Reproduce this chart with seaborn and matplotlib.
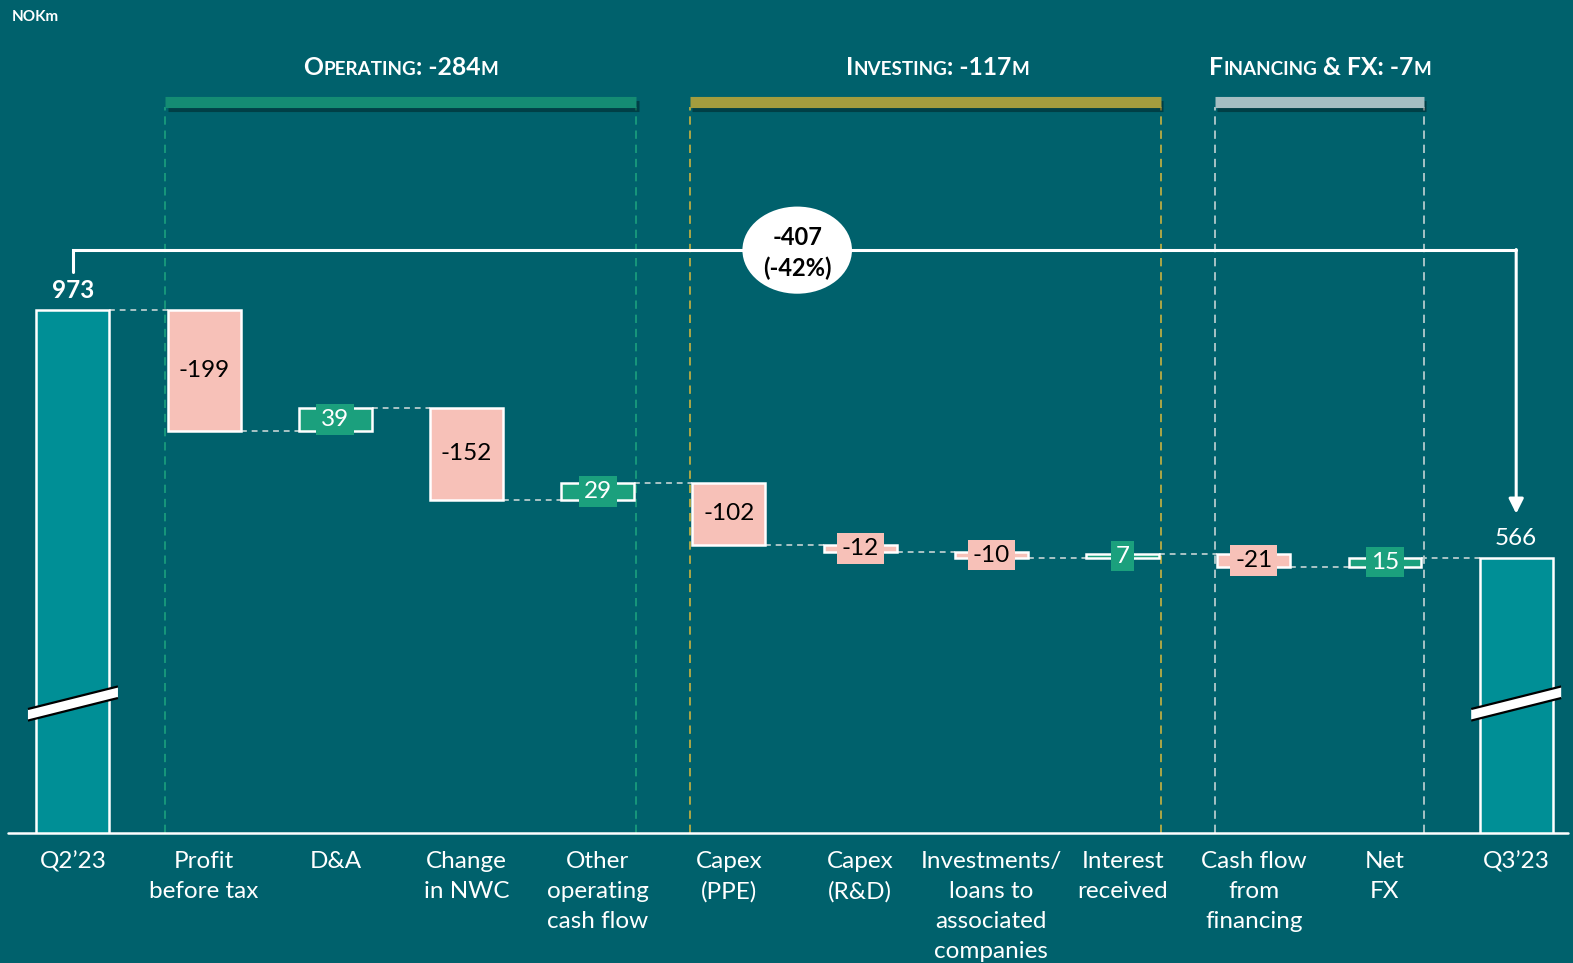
import numpy as np
import matplotlib
matplotlib.use("Agg")
import matplotlib.pyplot as plt
import matplotlib.patheffects as pe
from matplotlib.patches import Ellipse, Polygon
from matplotlib.offsetbox import TextArea, HPacker, AnnotationBbox
import seaborn as sns

# ---------------- data ----------------
categories = ["Q2’23", "Profit\nbefore tax", "D&A", "Change\nin NWC", "Other\noperating\ncash flow",
              "Capex\n(PPE)", "Capex\n(R&D)", "Investments/\nloans to\nassociated\ncompanies",
              "Interest\nreceived", "Cash flow\nfrom\nfinancing", "Net\nFX", "Q3’23"]
start_value = 973
end_value = 566
changes = [-199, 39, -152, 29, -102, -12, -10, 7, -21, 15]
group_names = [("O", "PERATING", ": -284", "M"), ("I", "NVESTING", ": -117", "M"),
               ("F", "INANCING", " & FX: -7", "M")]
group_members = [(1, 4), (5, 8), (9, 10)]
total_change = -407
total_change_pct = -42
unit_label = "NOKm"

# ---------------- style ----------------
BG = "#00616C"
TOTAL = "#008F96"
NEG = "#F7C1B8"
POS = "#1BA07D"
CONN = "#A9C4C6"
group_bar_colors = ["#148C73", "#A39D3E", "#A5BEC2"]
group_line_colors = ["#1BA07D", "#C9B23F", "#C3D3D4"]

sns.set_style("white", {"axes.facecolor": BG, "figure.facecolor": BG})
plt.rcParams["font.family"] = ["Lato", "DejaVu Sans"]

fig = plt.figure(figsize=(15.73, 9.63), dpi=100)
ax = fig.add_axes([0, 130 / 963, 1, 833 / 963])
ax.set_facecolor(BG)
ax.set_xlim(-0.556, 11.433)
ax.set_ylim(115, 1482)
for s in ax.spines.values():
    s.set_visible(False)
ax.set_yticks([])

n = len(categories)
x = np.arange(n)
W = 0.556

cum = [start_value]
for c in changes:
    cum.append(cum[-1] + c)

# total bars
ax.bar([0, n - 1], [start_value, end_value], width=W, color=TOTAL, edgecolor="white",
       linewidth=1.8, zorder=3)

# floating bars
for i, c in enumerate(changes):
    xi = i + 1
    bottom = cum[i] if c > 0 else cum[i + 1]
    col = POS if c > 0 else NEG
    ax.bar(xi, abs(c), bottom=bottom, width=W, color=col, edgecolor="white",
           linewidth=1.8, zorder=3)
    ax.text(xi, bottom + abs(c) / 2, f"{c}", ha="center", va="center", fontsize=17.5,
            color="white" if c > 0 else "black", zorder=5,
            bbox=dict(boxstyle="square,pad=0.2", fc=col, ec="none"))

# connectors
for i in range(n - 1):
    lvl = cum[i]
    ax.plot([i + W / 2, i + 1 - W / 2], [lvl, lvl], color=CONN, lw=1.4,
            dashes=(3, 2.5), zorder=2)

# total labels
ax.text(0, start_value + 33, f"{start_value}", ha="center", va="center", fontsize=17.5,
        fontweight="bold", color="white")
ax.text(n - 1, end_value + 33, f"{end_value}", ha="center", va="center", fontsize=17.5,
        color="white")

# break marks
for xi in [0, n - 1]:
    xl, xr = xi - 0.343, xi + 0.343
    yl, yr = 309, 346
    h = 9.5
    poly = Polygon([[xl, yl - h], [xr, yr - h], [xr, yr + h], [xl, yl + h]], closed=True,
                   fc="white", ec="none", zorder=6)
    ax.add_patch(poly)
    ax.plot([xl, xr], [yl - h, yr - h], color="black", lw=1.6, zorder=7, solid_capstyle="butt")
    ax.plot([xl, xr], [yl + h, yr + h], color="black", lw=1.6, zorder=7, solid_capstyle="butt")

# group headers
HB_Y = 1314.5
for k, ((a, b), parts) in enumerate(zip(group_members, group_names)):
    gl, gr = a - 0.295, b + 0.295
    ax.plot([gl, gr], [HB_Y, HB_Y], color=group_bar_colors[k], lw=8, solid_capstyle="butt",
            zorder=4, path_effects=[pe.SimpleLineShadow(offset=(1.5, -3), shadow_color="black",
                                                        alpha=0.35), pe.Normal()])
    for gx in (gl, gr):
        ax.plot([gx, gx], [115, HB_Y - 8], color=group_line_colors[k], lw=1.2,
                dashes=(5, 3.5), zorder=1)
    sizes = [17.8, 13.6, 17.8, 13.6]
    kids = [TextArea(t, textprops=dict(size=s, weight="bold", color="white",
                                       family=["Lato", "DejaVu Sans"]))
            for t, s in zip(parts, sizes)]
    pack = HPacker(children=kids, align="baseline", pad=0, sep=0)
    cx = [(401 - 73) / 131.2, (938 - 73) / 131.2, (1320 - 73) / 131.2][k]
    ab = AnnotationBbox(pack, (cx, 1372), xycoords="data", frameon=False,
                        box_alignment=(0.5, 0.5), zorder=5)
    ax.add_artist(ab)

# bracket for total change
BR_Y = 1071.5
ax.plot([0, 0, n - 1], [start_value + 62, BR_Y, BR_Y], color="white", lw=2.2, zorder=4,
        solid_joinstyle="miter")
ax.annotate("", xy=(n - 1, end_value + 73), xytext=(n - 1, BR_Y + 1),
            arrowprops=dict(arrowstyle="-|>", color="white", lw=2.2, mutation_scale=22,
                            shrinkA=0, shrinkB=0), zorder=4)
ax.add_patch(Ellipse((5.52, BR_Y), 0.835, 143, fc="white", ec="none", zorder=5))
ax.text(5.52, BR_Y - 5, f"{total_change}\n({total_change_pct}%)", ha="center", va="center",
        fontsize=17, fontweight="bold", color="black", zorder=6, linespacing=1.4)

# baseline
ax.plot([8 / 1573, 1568 / 1573], [0, 0], transform=ax.transAxes, color="white", lw=1.8,
        clip_on=False, zorder=8)

# x ticks
ax.set_xticks(x)
ax.set_xticklabels(categories, fontsize=17.5, color="white", linespacing=1.52)
ax.tick_params(axis="x", length=0, pad=13)

fig.text(12 / 1573, 1 - 17 / 963, unit_label, ha="left", va="center", fontsize=11,
         fontweight="bold", color="white")

fig.savefig("out.png", dpi=100, facecolor=BG)
